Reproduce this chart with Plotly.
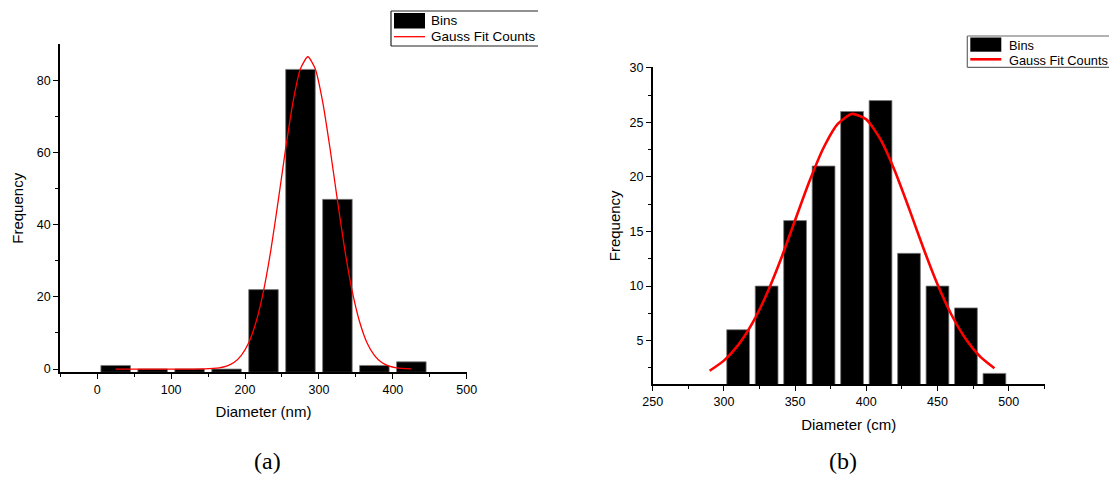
import plotly.graph_objects as go

# ---------------- Data: panel (a) ----------------
bin_centers_a = [25, 75, 125, 175, 225, 275, 325, 375, 425]
freq_a = [1, 0, 0, 0, 22, 83, 47, 1, 2]
fit_x_a = [25, 65, 105, 145, 165, 175, 185, 195, 205, 215, 225, 235, 245, 255, 265,
           275, 285, 295, 305, 315, 325, 335, 345, 355, 365, 375, 385, 395, 405, 425]
fit_y_a = [0.0, 0.0, 0.0, 0.05, 0.35, 0.8, 1.8, 3.8, 7.3, 13.1, 21.6, 33.0, 46.7, 61.1, 74.1,
           83.2, 86.5, 83.2, 74.1, 61.1, 46.7, 33.0, 21.6, 13.1, 7.3, 3.8, 1.8, 0.8, 0.35, 0.05]
x_ticks_a = [0, 100, 200, 300, 400, 500]
x_minor_a = [-50, 50, 150, 250, 350, 450]
y_ticks_a = [0, 20, 40, 60, 80]
y_minor_a = [10, 30, 50, 70]

# ---------------- Data: panel (b) ----------------
bin_centers_b = [310, 330, 350, 370, 390, 410, 430, 450, 470, 490]
freq_b = [6, 10, 16, 21, 26, 27, 13, 10, 8, 2]
fit_x_b = [290, 300, 310, 320, 330, 340, 350, 360, 370, 380, 390,
           400, 410, 420, 430, 440, 450, 460, 470, 480, 490]
fit_y_b = [2.24, 3.17, 4.59, 6.60, 9.25, 12.46, 16.03, 19.58, 22.68, 24.87, 25.78,
           25.28, 23.44, 20.57, 17.12, 13.51, 10.16, 7.33, 5.13, 3.54, 2.47]
x_ticks_b = [250, 300, 350, 400, 450, 500]
x_minor_b = [275, 325, 375, 425, 475, 525]
y_ticks_b = [5, 10, 15, 20, 25, 30]
y_minor_b = [2.5, 7.5, 12.5, 17.5, 22.5, 27.5]

Y_MIN_A = -0.9
# The page body has an 8px margin, so the figure fills the window from (8, 8).
OFF = 8
WIN_W, WIN_H = 1117, 478
W, H = WIN_W - OFF, WIN_H - OFF
FONT = "Arial, Liberation Sans, sans-serif"


def px_x(p):
    return (p - OFF) / W


def px_y(p):
    return 1 - (p - OFF) / H


fig = go.Figure()

bar_style = dict(color="black", line=dict(color="#7a7a7a", width=0.8))

fig.add_trace(go.Bar(x=bin_centers_a, y=[f - Y_MIN_A for f in freq_a], base=Y_MIN_A,
                     width=40, marker=bar_style, name="Bins", xaxis="x", yaxis="y",
                     showlegend=False))
fig.add_trace(go.Scatter(x=fit_x_a, y=fit_y_a, mode="lines", name="Gauss Fit Counts",
                         line=dict(color="#ff0000", width=1.3, shape="spline", smoothing=0.6),
                         xaxis="x", yaxis="y", showlegend=False))
fig.add_trace(go.Bar(x=bin_centers_b, y=freq_b, width=16, marker=bar_style, name="Bins",
                     xaxis="x2", yaxis="y2", showlegend=False))
fig.add_trace(go.Scatter(x=fit_x_b, y=fit_y_b, mode="lines", name="Gauss Fit Counts",
                         line=dict(color="#ff0000", width=2.6, shape="spline", smoothing=0.6),
                         xaxis="x2", yaxis="y2", showlegend=False))


def axis(tickvals, minorvals, rng, domain, anchor, title, standoff):
    return dict(
        domain=domain, anchor=anchor, range=rng, tickmode="array", tickvals=tickvals,
        ticktext=[str(v) for v in tickvals], automargin=False,
        showline=True, linecolor="black", linewidth=1.5, mirror=False,
        ticks="outside", ticklen=5, tickwidth=1.2, tickcolor="black",
        showgrid=False, zeroline=False,
        tickfont=dict(family=FONT, size=12.5, color="black"),
        minor=dict(tickmode="array", tickvals=minorvals, ticks="outside", ticklen=3,
                   tickwidth=1.2, tickcolor="black", showgrid=False),
        title=dict(text=title, font=dict(family=FONT, size=15, color="black"),
                   standoff=standoff),
    )


dom_xa = [px_x(60), px_x(467)]
dom_ya = [px_y(372.3), px_y(44.3)]
dom_xb = [px_x(652.7), px_x(1044.7)]
dom_yb = [px_y(384.3), px_y(67.3)]

fig.update_layout(
    template="none",
    width=W, height=H, margin=dict(l=0, r=0, t=0, b=0, pad=0), autosize=False,
    paper_bgcolor="white", plot_bgcolor="white", barmode="overlay", showlegend=False,
    xaxis=axis(x_ticks_a, x_minor_a, [-50.3, 500.3], dom_xa, "y", "Diameter (nm)", 10),
    yaxis=axis(y_ticks_a, y_minor_a, [Y_MIN_A, 89.95], dom_ya, "x", "Frequency", 10),
    xaxis2=axis(x_ticks_b, x_minor_b, [250, 525.3], dom_xb, "y2", "Diameter (cm)", 11),
    yaxis2=axis(y_ticks_b, y_minor_b, [1, 30.05], dom_yb, "x2", "Frequency", 5),
)

# ---------------- Hand-drawn legends ----------------
shapes = []
annotations = []


def legend(x0, x1, top, bottom, sw_top, sw_bot, line_y, text_x, y_bins, y_gauss, lw,
           box_color, fsize):
    for (a, b, c, d) in [(x0, top, x1, top), (x0, bottom, x1, bottom), (x0, top, x0, bottom)]:
        shapes.append(dict(type="line", xref="paper", yref="paper", x0=px_x(a), y0=px_y(b),
                           x1=px_x(c), y1=px_y(d), line=dict(color=box_color, width=1.2)))
    shapes.append(dict(type="rect", xref="paper", yref="paper", x0=px_x(x0 + 3), x1=px_x(x0 + 34),
                       y0=px_y(sw_bot), y1=px_y(sw_top), fillcolor="black",
                       line=dict(color="black", width=0)))
    shapes.append(dict(type="line", xref="paper", yref="paper", x0=px_x(x0 + 3), x1=px_x(x0 + 34),
                       y0=px_y(line_y), y1=px_y(line_y), line=dict(color="#ff0000", width=lw)))
    for txt, yy in [("Bins", y_bins), ("Gauss Fit Counts", y_gauss)]:
        annotations.append(dict(text=txt, xref="paper", yref="paper", x=px_x(text_x), y=px_y(yy),
                                xanchor="left", yanchor="middle", showarrow=False,
                                font=dict(family=FONT, size=fsize, color="black")))


legend(391, 538, 11, 46, 13, 28.5, 36.7, 429, 20.7, 36.7, 1.3, "#222222", 13.5)
legend(967.3, 1117, 36, 67.3, 37.5, 51.7, 59.3, 1007, 45.7, 60.5, 2.6, "#666666", 12.8)

annotations.append(dict(text="(a)", xref="paper", yref="paper", x=px_x(267), y=px_y(461),
                        xanchor="center", yanchor="middle", showarrow=False,
                        font=dict(family="Times New Roman, Liberation Serif, serif", size=24,
                                  color="black")))
annotations.append(dict(text="(b)", xref="paper", yref="paper", x=px_x(843), y=px_y(461),
                        xanchor="center", yanchor="middle", showarrow=False,
                        font=dict(family="Times New Roman, Liberation Serif, serif", size=24,
                                  color="black")))

fig.update_layout(shapes=shapes, annotations=annotations)

fig.write_html("out.html")
